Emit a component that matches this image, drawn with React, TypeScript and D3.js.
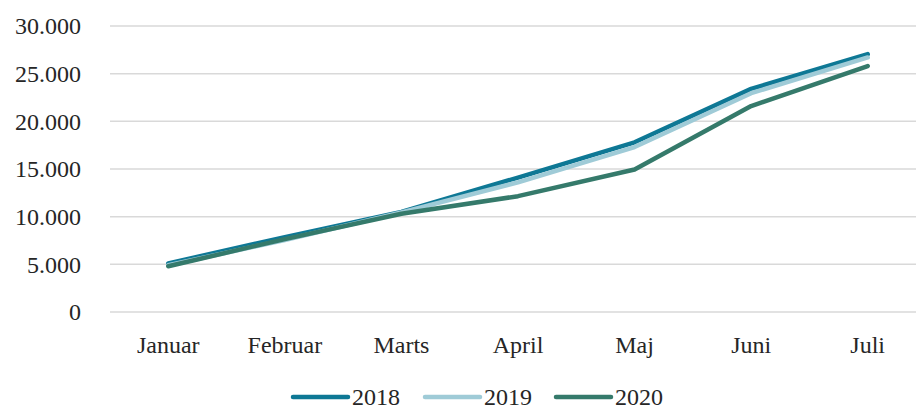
import React, { useEffect, useRef } from 'react';
import * as d3 from 'd3';

const months = ['Januar', 'Februar', 'Marts', 'April', 'Maj', 'Juni', 'Juli'];
const years = ['2018', '2019', '2020'];
const values2018 = [5100, 7850, 10500, 14100, 17800, 23400, 27050];
const values2019 = [4900, 7550, 10450, 13600, 17300, 22950, 26700];
const values2020 = [4800, 7650, 10300, 12150, 14950, 21600, 25800];
const yTicks = [0, 5000, 10000, 15000, 20000, 25000, 30000];
const colors = ['#0e7895', '#9fcbd7', '#357a6b'];

const App: React.FC = () => {
  const svgRef = useRef<SVGSVGElement>(null);

  useEffect(() => {
    if (!svgRef.current) return;
    const width = 916;
    const height = 410;
    const margin = { top: 26, right: -10, bottom: 98, left: 110 };
    const font = "'Liberation Serif', 'Times New Roman', serif";

    const svg = d3.select(svgRef.current);
    svg.selectAll('*').remove();
    svg.attr('width', width).attr('height', height);

    const x = d3.scaleBand<string>()
      .domain(months)
      .range([margin.left, width - margin.right]);

    const y = d3.scaleLinear()
      .domain([0, 30000])
      .range([height - margin.bottom, margin.top]);

    // gridlines
    svg.append('g')
      .selectAll('line')
      .data(yTicks)
      .join('line')
      .attr('x1', margin.left)
      .attr('x2', width)
      .attr('y1', d => y(d))
      .attr('y2', d => y(d))
      .attr('stroke', '#d9d9d9')
      .attr('stroke-width', 1.5);

    // y labels
    const fmt = (v: number) => (v === 0 ? '0' : d3.format(',')(v).replace(/,/g, '.'));
    svg.append('g')
      .selectAll('text')
      .data(yTicks)
      .join('text')
      .attr('x', 81)
      .attr('y', d => y(d))
      .attr('dy', '0.35em')
      .attr('text-anchor', 'end')
      .style('font-family', font)
      .style('font-size', '24px')
      .style('fill', '#262626')
      .text(d => fmt(d));

    // x labels
    svg.append('g')
      .selectAll('text')
      .data(months)
      .join('text')
      .attr('x', d => (x(d) as number) + x.bandwidth() / 2)
      .attr('y', 353)
      .attr('text-anchor', 'middle')
      .style('font-family', font)
      .style('font-size', '24px')
      .style('fill', '#262626')
      .text(d => d);

    const series = [values2018, values2019, values2020];
    const line = d3.line<number>()
      .x((_, i) => (x(months[i]) as number) + x.bandwidth() / 2)
      .y(d => y(d));

    series.forEach((vals, i) => {
      svg.append('path')
        .datum(vals)
        .attr('d', line)
        .attr('fill', 'none')
        .attr('stroke', colors[i])
        .attr('stroke-width', 4.5)
        .attr('stroke-linecap', 'round')
        .attr('stroke-linejoin', 'round');
    });

    // legend
    const legendX = [293, 425, 556];
    const legend = svg.append('g');
    years.forEach((yr, i) => {
      legend.append('line')
        .attr('x1', legendX[i])
        .attr('x2', legendX[i] + 55)
        .attr('y1', 397)
        .attr('y2', 397)
        .attr('stroke', colors[i])
        .attr('stroke-width', 4.5)
        .attr('stroke-linecap', 'round');
      legend.append('text')
        .attr('x', legendX[i] + 59)
        .attr('y', 397)
        .attr('dy', '0.35em')
        .style('font-family', font)
        .style('font-size', '24px')
        .style('fill', '#262626')
        .text(yr);
    });
  }, []);

  return (
    <div style={{ position: 'absolute', left: 0, top: 0 }}>
      <svg ref={svgRef}></svg>
    </div>
  );
};

export default App;
